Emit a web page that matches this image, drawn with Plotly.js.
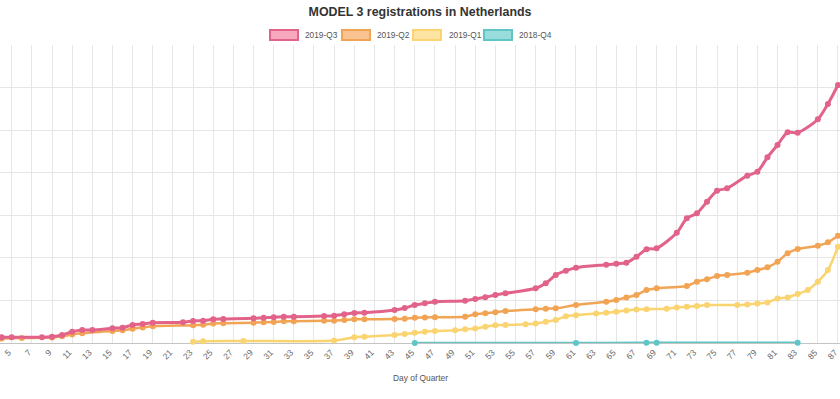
<!DOCTYPE html>
<html>
<head>
<meta charset="utf-8">
<script src="https://cdn.plot.ly/plotly-3.0.1.min.js"></script>
<style>html,body{margin:0;padding:0;background:#fff;}#chart{width:840px;height:399px;}</style>
</head>
<body>
<div id="chart"></div>
<script>
// ---- data ----
const seriesNames = ["2019-Q3", "2019-Q2", "2019-Q1", "2018-Q4"];

const q3Days = [4,5,8,9,10,11,12,13,15,16,17,18,19,22,23,24,25,26,29,30,31,32,33,36,37,38,39,40,43,44,45,46,47,50,51,52,53,54,57,58,59,60,61,64,65,66,67,68,69,71,72,73,74,75,76,78,79,80,81,82,83,85,86,87];
const q3Values = [268,268,268,296,376,531,611,611,691,719,846,893,954,972,1034,1048,1113,1128,1160,1189,1207,1236,1236,1268,1283,1348,1409,1423,1550,1644,1785,1865,1940,1987,2067,2147,2255,2335,2570,2805,3195,3397,3538,3678,3725,3772,4054,4402,4449,5182,5858,6093,6638,7155,7268,7860,8048,8724,9302,9899,9880,10509,11228,12120];

const q2Days = [4,6,9,10,11,12,15,16,17,18,19,23,24,25,26,29,30,31,32,33,36,37,38,39,40,43,44,45,46,47,50,51,52,53,54,57,58,59,61,64,65,66,67,68,69,72,73,74,75,76,78,79,80,81,82,83,85,86,87];
const q2Values = [211,235,258,315,399,456,564,597,672,728,785,832,860,916,925,954,972,987,1019,1019,1048,1048,1081,1113,1113,1128,1142,1189,1198,1212,1236,1348,1395,1442,1503,1583,1611,1630,1785,1940,2020,2138,2255,2490,2570,2678,2880,2993,3148,3195,3303,3430,3556,3819,4214,4416,4571,4731,5041];

const q1Days = [23,24,28,37,39,40,43,44,45,46,47,49,50,51,52,53,54,56,57,58,59,60,61,63,64,65,66,67,68,70,71,72,73,74,77,78,79,80,81,82,83,84,85,86,87];
const q1Values = [56,85,94,117,268,296,376,423,479,531,564,597,644,681,766,836,846,883,916,996,1081,1259,1306,1386,1419,1466,1527,1579,1588,1611,1672,1705,1738,1781,1785,1813,1860,1907,2091,2142,2302,2490,2880,3430,4524];

const q4Days = [45,61,68,69,83];
const q4Values = [3,5,7,8,10];

const xTitle = "Day of Quarter";
const chartTitle = "MODEL 3 registrations in Netherlands";

// ---- styles ----
const lineColors = ["#e2638a", "#f2a455", "#f9d471", "#5fc5c5"];
const boxFills = ["#f7a8bf", "#f9c491", "#fde4a3", "#98dcdc"];
const allDays = [q3Days, q2Days, q1Days, q4Days];
const allValues = [q3Values, q2Values, q1Values, q4Values];
const FONT = "Liberation Sans, Arial, sans-serif";

const traces = allDays.map((d, i) => ({
  type: "scatter",
  mode: "lines+markers",
  x: d,
  y: allValues[i],
  name: seriesNames[i],
  showlegend: false,
  line: {color: lineColors[i], width: i === 0 ? 3 : 2.5, shape: "spline", smoothing: 0.8},
  marker: {color: lineColors[i], size: 6},
  hoverinfo: "x+y+name",
  cliponaxis: false
}));
traces.reverse();

// legend drawn as boxes + text (Chart.js style)
const W = 840, plotTop = 45, plotBottom = 343;
const ph = plotBottom - plotTop;
const boxX = [270, 342, 413, 484];
const textX = [303, 375, 447, 517];
const boxTop = 30, boxBot = 40, legendMid = 35;
const py = p => (plotBottom - p) / ph;

const shapes = [], annotations = [];
seriesNames.forEach((n, i) => {
  shapes.push({
    type: "rect", xref: "paper", yref: "paper",
    x0: boxX[i] / W, x1: (boxX[i] + 28) / W,
    y0: py(boxBot), y1: py(boxTop),
    fillcolor: boxFills[i], line: {color: lineColors[i], width: 2}
  });
  annotations.push({
    xref: "paper", yref: "paper", x: textX[i] / W, y: py(legendMid),
    xanchor: "left", yanchor: "middle", showarrow: false, text: n,
    font: {family: FONT, size: 8.3, color: "#555"}
  });
});
annotations.push({
  xref: "paper", yref: "paper", x: 0.5, y: py(378),
  xanchor: "center", yanchor: "middle", showarrow: false, text: xTitle,
  font: {family: FONT, size: 8.4, color: "#555"}
});

const layout = {
  width: 840, height: 399,
  margin: {l: 0, r: 0, t: 45, b: 56, pad: 0},
  paper_bgcolor: "#fff", plot_bgcolor: "#fff",
  font: {family: FONT, size: 8.5, color: "#666"},
  title: {
    text: "<b>" + chartTitle + "</b>",
    x: 0.5, xanchor: "center", y: 1 - 12 / 399, yanchor: "middle",
    font: {size: 12.4, color: "#333"}
  },
  showlegend: false,
  xaxis: {
    range: [3.84, 87.2],
    tickmode: "linear", tick0: 5, dtick: 2,
    tickangle: -45,
    tickfont: {size: 8.5, color: "#666"},
    ticklabeloverflow: "allow",
    ticklabelshift: -3,
    showgrid: true, gridcolor: "#e6e6e6", gridwidth: 1,
    zeroline: false, showline: false, ticks: "",
    ticklabelstandoff: 2
  },
  yaxis: {
    range: [0, 14000], tickmode: "linear", tick0: 0, dtick: 2000,
    showticklabels: false, ticks: "",
    showgrid: true, gridcolor: "#e6e6e6", gridwidth: 1,
    zeroline: true, zerolinecolor: "#c4c4c4", zerolinewidth: 1,
    showline: false
  },
  shapes: shapes,
  annotations: annotations
};

Plotly.newPlot("chart", traces, layout, {displayModeBar: false, responsive: false});
</script>
</body>
</html>
